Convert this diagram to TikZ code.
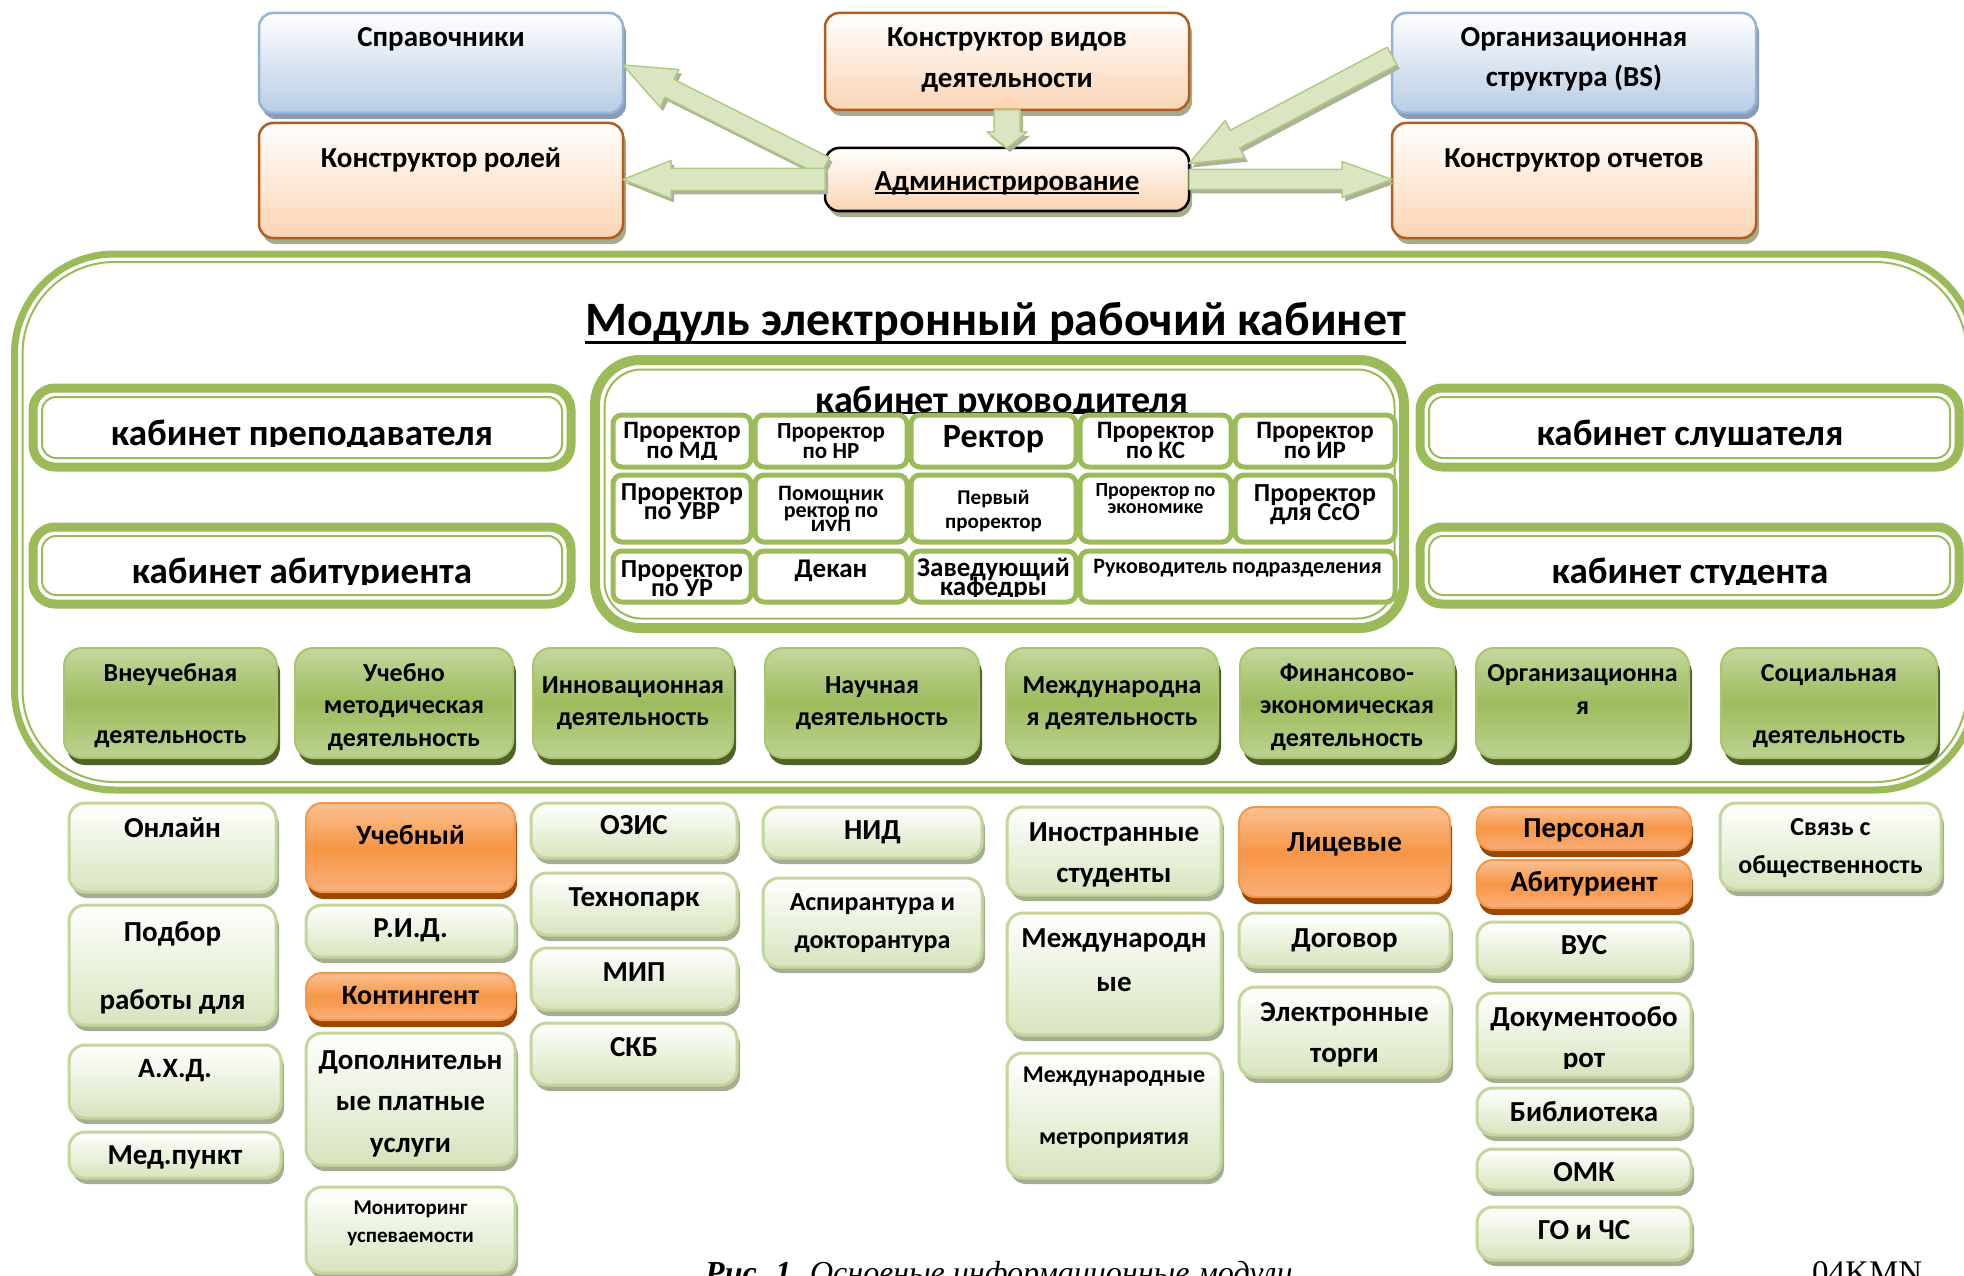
\documentclass[tikz,border=0pt]{standalone}
\usepackage{fontspec}
\setmainfont{Carlito}
\newfontfamily\capfont{Liberation Serif}
\usetikzlibrary{calc,shadows}
\lineskiplimit=-1000pt
\lineskip=0pt
\definecolor{mgreen}{HTML}{9BBB59}
\definecolor{lgreen}{HTML}{D7E4BD}
\definecolor{lgborder}{HTML}{C3D69B}
\definecolor{lgshadow}{HTML}{A4AE91}
\definecolor{agTop}{HTML}{C4D79E}
\definecolor{agMid}{HTML}{9DBC5C}
\definecolor{agBot}{HTML}{BDD292}
\definecolor{agBorder}{HTML}{A9C56E}
\definecolor{agShadow}{HTML}{4F6228}
\definecolor{orTop}{HTML}{FAC193}
\definecolor{orMid}{HTML}{F79646}
\definecolor{orBot}{HTML}{F9AF7B}
\definecolor{orBorder}{HTML}{F79646}
\definecolor{orShadow}{HTML}{984807}
\definecolor{blBottom}{HTML}{B8CCE4}
\definecolor{blBorder}{HTML}{95B3D7}
\definecolor{blShadow}{HTML}{8A9BB3}
\definecolor{pkBottom}{HTML}{FBD4B4}
\definecolor{pkBorder}{HTML}{B45C1E}
\definecolor{pkShadow}{HTML}{A3AD8E}
\definecolor{arFill}{HTML}{D9E6C1}
\definecolor{arBorder}{HTML}{B2CB83}
\definecolor{arShadow}{HTML}{A9B396}
\tikzset{
  boxbase/.style={rectangle, inner sep=0, outer sep=0},
  bluebox/.style={boxbase, rounded corners=14, draw=blBorder, line width=2.5, top color=white, bottom color=blBottom,
    drop shadow={shadow xshift=3pt, shadow yshift=-6pt, fill=blShadow, opacity=1}},
  pinkbox/.style={boxbase, rounded corners=14, draw=pkBorder, line width=2.5, top color=white, bottom color=pkBottom,
    drop shadow={shadow xshift=3pt, shadow yshift=-6pt, fill=pkShadow, opacity=1}},
  adminbox/.style={pinkbox, draw=black},
  gridbox/.style={boxbase, rounded corners=9, draw=mgreen, line width=5, fill=white},
  cabouter/.style={boxbase, rounded corners=22, draw=mgreen, line width=9, fill=white},
  cabinner/.style={draw=mgreen, line width=2, rounded corners=14},
  actbox/.style={boxbase, rounded corners=18, draw=agBorder, line width=2, top color=agTop, bottom color=agBot, middle color=agMid,
    drop shadow={shadow xshift=3pt, shadow yshift=-7pt, fill=agShadow, opacity=1}},
  lightbox/.style={boxbase, rounded corners=16, draw=lgborder, line width=3, top color=white, bottom color=lgreen,
    drop shadow={shadow xshift=3pt, shadow yshift=-6pt, fill=lgshadow, opacity=1}},
  orbox/.style={boxbase, rounded corners=16, draw=orBorder, line width=2, top color=orTop, bottom color=orBot, middle color=orMid,
    drop shadow={shadow xshift=2pt, shadow yshift=-7pt, fill=orShadow, opacity=1}},
  txt/.style={inner sep=0, outer sep=0, anchor=base, text=black},
  arrowshadow/.style={fill=arShadow, transform canvas={xshift=3pt,yshift=-4pt}},
  arrowbody/.style={fill=arFill, draw=arBorder, line width=1.5, line join=round},
  uline/.style={line width=2.5, black}
}
\newcommand\mybox[6]{\node[#1, minimum width={#4-#2}, minimum height={#5-#3}] (#6) at ({(#2+#4)/2},{(#3+#5)/2}) {};}
\newcommand\mytext[6]{\node[txt, font={\bfseries\fontsize{#4}{#5}\selectfont}] (#1) at (#2,#3) {#6};}
\newcommand\mycut[7]{\begin{scope}\clip ({#2-500},{#3-300}) rectangle ({#2+500},{#6});\node[txt, font={\bfseries\fontsize{#4}{#5}\selectfont}] (#1) at (#2,#3) {#7};\end{scope}}
\newcommand\mlines[1]{\vtop{\halign{\hfil##\hfil\cr#1\crcr}}}
\newcommand\cabinet[5]{\node[cabouter, minimum width={#3-#1}, minimum height={#4-#2}] (#5) at ({(#1+#3)/2},{(#2+#4)/2}) {};
  \draw[cabinner] ([shift={(9,9)}]#5.north west) rectangle ([shift={(-9,-9)}]#5.south east);}
\newcommand\fatarrow[5]{%
  \coordinate (fah) at ($(#2)!#5pt!(#1)$);
  \path[arrowshadow] ($(#1)!#3pt!90:(#2)$) -- ($(fah)!#3pt!90:(#2)$) -- ($(fah)!#4pt!90:(#2)$) -- (#2) -- ($(fah)!#4pt!-90:(#2)$) -- ($(fah)!#3pt!-90:(#2)$) -- ($(#1)!#3pt!-90:(#2)$) -- cycle;
  \path[arrowbody] ($(#1)!#3pt!90:(#2)$) -- ($(fah)!#3pt!90:(#2)$) -- ($(fah)!#4pt!90:(#2)$) -- (#2) -- ($(fah)!#4pt!-90:(#2)$) -- ($(fah)!#3pt!-90:(#2)$) -- ($(#1)!#3pt!-90:(#2)$) -- cycle;
}
\begin{document}
\begin{tikzpicture}[x=1pt,y=-1pt]
\useasboundingbox (0,0) rectangle (1964,1276);
\clip (0,0) rectangle (1964,1276);
\fill[white] (0,0) rectangle (1964,1276);

% ---------- top section ----------
\mybox{bluebox}{259}{13}{623}{113}{spr}
\mybox{pinkbox}{259}{123}{623}{238}{rol}
\mybox{pinkbox}{825}{13}{1189}{110}{kvd}
\mybox{adminbox}{825}{148}{1189}{211}{adm}
\mybox{bluebox}{1392}{13}{1756}{113}{org}
\mybox{pinkbox}{1392}{123}{1756}{238}{otc}

\mytext{tspr}{441}{47}{29}{40}{Справочники}
\mytext{trol}{441}{168}{29}{40}{Конструктор ролей}
\mytext{tkvd}{1007}{47}{29}{41}{\mlines{Конструктор видов\cr деятельности}}
\mytext{tadm}{1007}{190}{29}{40}{Администрирование}
\draw[line width=2] ([yshift=-3pt]tadm.base west) -- ([yshift=-3pt]tadm.base east);
\mytext{torg}{1574}{47}{29}{40}{\mlines{Организационная\cr структура (BS)}}
\mytext{totc}{1574}{168}{29}{40}{Конструктор отчетов}

\coordinate (a1s) at ([yshift=13pt]adm.west);
\coordinate (a1e) at ([yshift=-2pt]spr.east);
\fatarrow{a1s}{a1e}{10}{21}{52}
\coordinate (a2s) at (adm.west);
\coordinate (a2e) at (rol.east |- adm.west);
\fatarrow{a2s}{a2e}{11}{19}{48}
\coordinate (a3s) at (kvd.south);
\coordinate (a3e) at (adm.north);
\fatarrow{a3s}{a3e}{13}{20}{16}
\coordinate (a4s) at ([yshift=7pt]org.west);
\coordinate (a4e) at ([yshift=16pt]adm.east);
\fatarrow{a4s}{a4e}{10}{21}{52}
\coordinate (a5s) at (adm.east);
\coordinate (a5e) at (otc.west |- adm.east);
\fatarrow{a5s}{a5e}{10}{18}{50}

% ---------- module frame ----------
\draw[mgreen, line width=7, rounded corners=100] (14.5,254) rectangle (1975,790);
\draw[mgreen, line width=2, rounded corners=92] (22.5,262) rectangle (1967,782);
\node[txt, font={\bfseries\fontsize{48}{52}\selectfont}] (title) at (995.5,335) {Модуль электронный рабочий кабинет};
\draw[uline, line width=3] ([yshift=-7pt]title.base west) -- ([yshift=-7pt]title.base east);

% cabinets
\cabinet{33}{388}{571}{467}{cprep}
\cabinet{33}{527}{571}{604}{cabit}
\cabinet{1420}{388}{1959}{467}{cslu}
\cabinet{1420}{527}{1959}{604}{cstud}
\mycut{tprep}{302}{445}{37}{40}{446}{кабинет преподавателя}
\mycut{tabit}{302}{583}{37}{40}{584}{кабинет абитуриента}
\mycut{tslu}{1690}{445}{37}{40}{446}{кабинет слушателя}
\mycut{tstud}{1690}{583}{37}{40}{584}{кабинет студента}

% head cabinet
\draw[mgreen, line width=10, rounded corners=45] (595,360) rectangle (1404,628);
\draw[mgreen, line width=2, rounded corners=37] (604.5,369.5) rectangle (1394.5,618.5);
\mycut{truk}{1002}{412}{38}{40}{413}{кабинет руководителя}
\draw[uline] ([yshift=-1pt]truk.base west) -- ([yshift=-1pt]truk.base east);

\mybox{gridbox}{613}{415}{751}{467}{g11}
\mybox{gridbox}{755}{415}{907}{467}{g12}
\mybox{gridbox}{911}{415}{1076}{467}{g13}
\mybox{gridbox}{1080}{415}{1231}{467}{g14}
\mybox{gridbox}{1235}{415}{1395}{467}{g15}
\mybox{gridbox}{613}{475}{751}{542}{g21}
\mybox{gridbox}{755}{475}{907}{542}{g22}
\mybox{gridbox}{911}{475}{1076}{542}{g23}
\mybox{gridbox}{1080}{475}{1231}{542}{g24}
\mybox{gridbox}{1235}{475}{1395}{542}{g25}
\mybox{gridbox}{613}{551}{751}{602}{g31}
\mybox{gridbox}{755}{551}{907}{602}{g32}
\mybox{gridbox}{911}{551}{1076}{602}{g33}
\mybox{gridbox}{1080}{551}{1395}{602}{g34}

\mycut{tg11}{682}{438}{25}{20}{459}{\mlines{Проректор\cr по МД}}
\mytext{tg12}{831}{438}{23}{20}{\mlines{Проректор\cr по НР}}
\mytext{tg13}{993.5}{447}{34}{36}{Ректор}
\mycut{tg14}{1155.5}{438}{25}{20}{459}{\mlines{Проректор\cr по КС}}
\mycut{tg15}{1315}{438}{25}{20}{459}{\mlines{Проректор\cr по ИР}}
\mytext{tg21}{682}{500}{26}{19}{\mlines{Проректор\cr по УВР}}
\mycut{tg22}{831}{500}{22}{17}{530}{\mlines{Помощник\cr ректор по\cr ИУП}}
\mytext{tg23}{993.5}{504}{21}{24}{\mlines{Первый\cr проректор}}
\mytext{tg24}{1155.5}{496}{20}{17}{\mlines{Проректор по\cr экономике}}
\mytext{tg25}{1315}{501}{26}{19}{\mlines{Проректор\cr для СсО}}
\mycut{tg31}{682}{577}{26}{19}{597}{\mlines{Проректор\cr по УР}}
\mytext{tg32}{831}{577}{27}{20}{Декан}
\mycut{tg33}{993.5}{576}{27}{19}{596}{\mlines{Заведующий\cr кафедры}}
\mytext{tg34}{1237.5}{573}{22}{24}{Руководитель подразделения}

% activity boxes
\mybox{actbox}{64}{648}{277}{758}{act1}
\mybox{actbox}{295}{648}{513}{758}{act2}
\mybox{actbox}{533}{648}{733}{758}{act3}
\mybox{actbox}{765}{648}{979}{758}{act4}
\mybox{actbox}{1006}{648}{1218}{758}{act5}
\mybox{actbox}{1240}{648}{1454}{758}{act6}
\mybox{actbox}{1476}{648}{1689}{758}{act7}
\mybox{actbox}{1721}{648}{1937}{758}{act8}
\mytext{tact1}{170.5}{681}{26}{31}{\mlines{Внеучебная\cr~\cr деятельность}}
\mytext{tact2}{404}{681}{26}{32.5}{\mlines{Учебно\cr методическая\cr деятельность}}
\mytext{tact3}{633}{693}{26}{32}{\mlines{Инновационная\cr деятельность}}
\mytext{tact4}{872}{693}{26}{32}{\mlines{Научная\cr деятельность}}
\mytext{tact5}{1112}{693}{26}{32}{\mlines{Международна\cr я деятельность}}
\mytext{tact6}{1347}{681}{26}{32.5}{\mlines{Финансово-\cr экономическая\cr деятельность}}
\mytext{tact7}{1582.5}{681}{26}{33}{\mlines{Организационна\cr я}}
\mytext{tact8}{1829}{681}{26}{31}{\mlines{Социальная\cr~\cr деятельность}}

% ---------- bottom boxes ----------
\mybox{lightbox}{69}{803}{276}{892}{onl}
\mybox{lightbox}{69}{905}{276}{1025}{pdb}
\mybox{lightbox}{69}{1045}{281}{1118}{ahd}
\mybox{lightbox}{69}{1132}{281}{1178}{med}
\mybox{orbox}{306}{803}{515}{892}{ucb}
\mybox{lightbox}{306}{905}{515}{957}{rid}
\mybox{orbox}{306}{973}{515}{1020}{kont}
\mybox{lightbox}{306}{1033}{515}{1165}{dop}
\mybox{lightbox}{306}{1187}{515}{1273}{mon}
\mybox{lightbox}{531}{803}{737}{858}{ozis}
\mybox{lightbox}{531}{873}{737}{935}{tech}
\mybox{lightbox}{531}{948}{737}{1010}{mip}
\mybox{lightbox}{531}{1023}{737}{1085}{skb}
\mybox{lightbox}{763}{807}{982}{858}{nid}
\mybox{lightbox}{763}{878}{982}{967}{asp}
\mybox{lightbox}{1007}{807}{1221}{895}{inos}
\mybox{lightbox}{1007}{913}{1221}{1035}{mezh}
\mybox{lightbox}{1007}{1053}{1221}{1178}{mezm}
\mybox{orbox}{1239}{807}{1450}{897}{lic}
\mybox{lightbox}{1239}{913}{1450}{967}{dog}
\mybox{lightbox}{1239}{987}{1450}{1077}{elt}
\mybox{orbox}{1477}{807}{1691}{850}{pers}
\mybox{orbox}{1477}{860}{1691}{908}{abt}
\mybox{lightbox}{1477}{922}{1691}{977}{vus}
\mybox{lightbox}{1477}{993}{1691}{1077}{doc}
\mybox{lightbox}{1477}{1088}{1691}{1135}{bib}
\mybox{lightbox}{1477}{1149}{1691}{1190}{omk}
\mybox{lightbox}{1477}{1207}{1691}{1260}{gochs}
\mybox{lightbox}{1720}{803}{1941}{890}{svz}

\mytext{tonl}{172.5}{837}{29}{34}{Онлайн}
\mytext{tpdb}{172.5}{941}{29}{34}{\mlines{Подбор\cr~\cr работы для}}
\mytext{tahd}{175}{1077}{28}{34}{А.Х.Д.}
\mytext{tmed}{175}{1164}{29}{34}{Мед.пункт}
\mytext{tucb}{410.5}{844}{28}{34}{Учебный}
\mytext{trid}{410.5}{937}{29}{34}{Р.И.Д.}
\mytext{tkont}{410.5}{1004}{28}{34}{Контингент}
\mytext{tdop}{410.5}{1069}{29}{41.5}{\mlines{Дополнительн\cr ые платные\cr услуги}}
\mytext{tmon}{410.5}{1214}{21}{28}{\mlines{Мониторинг\cr успеваемости}}
\mytext{tozis}{634}{834}{29}{34}{ОЗИС}
\mytext{ttech}{634}{906}{29}{34}{Технопарк}
\mytext{tmip}{634}{981}{29}{34}{МИП}
\mytext{tskb}{634}{1056}{29}{34}{СКБ}
\mytext{tnid}{872.5}{839}{29}{34}{НИД}
\mytext{tasp}{872.5}{910}{26}{38}{\mlines{Аспирантура и\cr докторантура}}
\mytext{tinos}{1114}{841}{29}{41}{\mlines{Иностранные\cr студенты}}
\mytext{tmezh}{1114}{947}{29}{44}{\mlines{Международн\cr ые}}
\mytext{tmezm}{1114}{1082}{24}{31}{\mlines{Международные\cr~\cr метроприятия}}
\mytext{tlic}{1344.5}{851}{29}{34}{Лицевые}
\mytext{tdog}{1344.5}{947}{29}{34}{Договор}
\mytext{telt}{1344.5}{1021}{29}{41}{\mlines{Электронные\cr торги}}
\mytext{tpers}{1584}{837}{29}{34}{Персонал}
\mytext{tabt}{1584}{891}{29}{34}{Абитуриент}
\mytext{tvus}{1584}{954}{29}{34}{ВУС}
\mycut{tdoc}{1584}{1026}{29}{41}{1068}{\mlines{Документообо\cr рот}}
\mytext{tbib}{1584}{1121}{29}{34}{Библиотека}
\mytext{tomk}{1584}{1181}{29}{34}{ОМК}
\mytext{tgochs}{1584}{1239}{29}{34}{ГО и ЧС}
\mytext{tsvz}{1830.5}{835}{26}{38}{\mlines{Связь с\cr общественность}}

% caption
\node[anchor=base west, inner sep=0, font={\capfont\itshape\fontsize{32}{38}\selectfont}] (cap) at (705,1283) {\textbf{Рис. 1.} Основные информационные модули};
\node[anchor=base west, inner sep=0, font={\capfont\fontsize{33}{38}\selectfont}] (code) at (1812,1283) {04KMN};
\end{tikzpicture}
\end{document}
